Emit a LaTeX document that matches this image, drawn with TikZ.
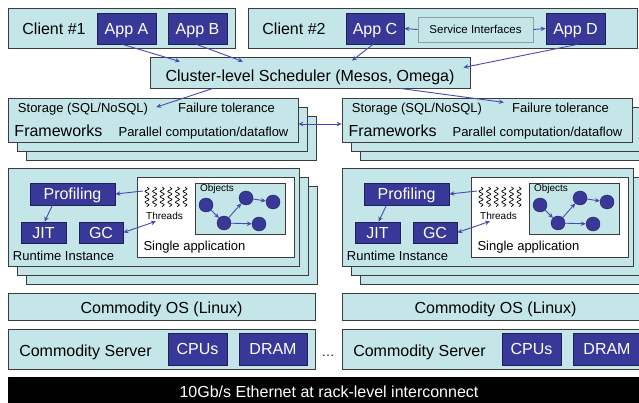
\documentclass[tikz,border=0pt]{standalone}
\usepackage{fontspec}
\setmainfont{Liberation Sans}
\usetikzlibrary{arrows.meta,decorations.pathmorphing}

\definecolor{panelcyan}{RGB}{197,230,232}
\definecolor{appblue}{RGB}{56,56,152}
\definecolor{appedge}{RGB}{32,32,90}
\definecolor{edgegray}{RGB}{60,60,60}
\definecolor{arrowblue}{RGB}{72,72,182}
\definecolor{svcedge}{RGB}{140,160,160}

\newcommand{\sizeL}{\fontsize{16}{19}\selectfont}
\newcommand{\sizeM}{\fontsize{13}{15}\selectfont}
\newcommand{\sizeS}{\fontsize{11.5}{13}\selectfont}
\newcommand{\sizeXS}{\fontsize{10}{12}\selectfont}

\tikzset{
  panel/.style={draw=edgegray, fill=panelcyan, line width=0.8pt, inner sep=0pt},
  darkbox/.style={draw=appedge, fill=appblue, text=white, font=\sizeL, line width=0.8pt,
    inner sep=0pt, text height=11.5pt, text depth=0pt},
  svcbox/.style={draw=svcedge, fill=panelcyan, font=\sizeS, line width=0.8pt,
    inner sep=0pt, text height=8.2pt, text depth=0pt},
  whitebox/.style={draw=edgegray, fill=white, line width=0.8pt, inner sep=0pt},
  netbar/.style={draw=black, fill=black, inner sep=0pt},
  txt/.style={inner sep=0pt, anchor=base},
  obj/.style={circle, draw=appedge, fill=appblue, minimum size=14pt, inner sep=0pt},
  wave/.style={decorate, decoration={snake, amplitude=2pt, segment length=5.4pt}, line width=0.7pt},
  link/.style={draw=arrowblue, line width=0.9pt, >={Stealth[length=5pt,width=4.5pt]}, ->},
  twoway/.style={link, <->},
}

% box from its corners: style, name, x1, y1, x2, y2, text
\newcommand{\boxat}[7]{
\node[#1, minimum width={(#5)-(#3)}, minimum height={(#6)-(#4)}]
(#2) at ({((#3)+(#5))/2}, {((#4)+(#6))/2}) {#7};
}
% three layers, back to front
\newcommand{\stackat}[5]{
\boxat{panel}{#1c}{#2+18}{#3+18}{#4+18}{#5+18}{}
\boxat{panel}{#1b}{#2+9}{#3+9}{#4+9}{#5+9}{}
\boxat{panel}{#1}{#2}{#3}{#4}{#5}{}
}
% one machine, frameworks down to server
\newcommand{\rackcol}[1]{
\stackat{fw#1}{8}{98}{298}{142}
\node[txt, font=\sizeM] (stor#1) at (83,113) {Storage (SQL/NoSQL)};
\node[txt, font=\sizeM] (fail#1) at (226.5,113) {Failure tolerance};
\node[txt, font=\sizeL] (fwtxt#1) at (58.5,137) {Frameworks};
\node[txt, font=\sizeM] (par#1) at (203.5,137) {Parallel computation/dataflow};

\stackat{rt#1}{8}{168}{299}{266}
\boxat{darkbox}{prof#1}{30}{183}{115}{205}{Profiling}
\boxat{darkbox}{jit#1}{21}{222}{66}{243}{JIT}
\boxat{darkbox}{gc#1}{79}{222}{123}{243}{GC}
\node[txt, font=\sizeM] (rtname#1) at (63.5,260) {Runtime Instance};
\boxat{whitebox}{sapp#1}{137}{177}{294}{257}{}
\node[txt, font=\sizeM] (sapptxt#1) at (194.5,251) {Single application};
\boxat{panel}{objs#1}{195}{183}{285}{234}{}
\node[txt, font=\sizeXS] (objtxt#1) at (217,192) {Objects};
\foreach \k in {0,...,5}
  \draw[wave] (147+\k*7.6,187) -- (147+\k*7.6,207);
\node[txt, font=\sizeXS] (thr#1) at (164.5,219) {Threads};
\coordinate (wave#1) at (143,191);
\node[obj] (oa#1) at (206,205) {};
\node[obj] (ob#1) at (224,223) {};
\node[obj] (oc#1) at (246,198) {};
\node[obj] (od#1) at (273,202) {};
\node[obj] (oe#1) at (259,224) {};
\draw[link] (oa#1) -- (ob#1);
\draw[link] (ob#1) -- (oc#1);
\draw[link] (oc#1) -- (od#1);
\draw[link] (ob#1) -- (oe#1);
\draw[link] (wave#1) -- (prof#1.east);
\draw[link] ([xshift=-20pt]prof#1.south) -- ([xshift=1pt]jit#1.north);
\draw[twoway] (gc#1.east) -- ([xshift=10pt,yshift=-2pt]thr#1.south west);

\boxat{panel}{os#1}{8}{293}{315}{320}{}
\node[txt, font=\sizeL] (ostxt#1) at (161.5,313) {Commodity OS (Linux)};
\boxat{panel}{srv#1}{8}{329}{315}{369}{}
\node[txt, font=\sizeL] (srvtxt#1) at (85.5,356) {Commodity Server};
\boxat{darkbox}{cpu#1}{168}{333}{227}{365}{CPUs}
\boxat{darkbox}{dram#1}{239}{333}{307}{365}{DRAM}
}

\begin{document}
\begin{tikzpicture}[x=1pt, y=-1pt]
\path[use as bounding box, clip] (0,0) rectangle (639,403);

% clients
\boxat{panel}{cl1}{8}{8}{235}{48}{}
\node[txt, font=\sizeL] (cl1txt) at (54,35) {Client \#1};
\boxat{darkbox}{appA}{97}{13}{156}{44}{App A}
\boxat{darkbox}{appB}{168}{13}{227}{44}{App B}
\boxat{panel}{cl2}{248}{8}{637}{48}{}
\node[txt, font=\sizeL] (cl2txt) at (294,35) {Client \#2};
\boxat{darkbox}{appC}{346}{13}{404}{44}{App C}
\boxat{svcbox}{svc}{418}{17}{533}{42}{Service Interfaces}
\boxat{darkbox}{appD}{546}{13}{605}{44}{App D}
\draw[link] (svc.west) -- (appC.east);
\draw[link] (svc.east) -- (appD.west);

% scheduler
\boxat{panel}{sched}{150}{57}{470}{88}{}
\node[txt, font=\sizeL] (schedtxt) at (310,82) {Cluster-level Scheduler (Mesos, Omega)};
\draw[link] ([xshift=-4pt]appA.south) -- ([xshift=-130pt,yshift=-5pt]sched.north);
\draw[link] ([xshift=-1pt]appB.south) -- ([xshift=-67pt,yshift=-5pt]sched.north);
\draw[link] ([xshift=-2pt]appC.south) -- ([xshift=42pt,yshift=-4pt]sched.north);
\draw[link] ([xshift=2pt]appD.south) -- ([xshift=-7pt,yshift=5pt]sched.east);

% machines
\rackcol{L}
\begin{scope}[xshift=334pt]
\rackcol{R}
\end{scope}
\draw[link] ([xshift=-97pt]sched.south) -- ([xshift=8pt,yshift=2.5pt]storL.east);
\draw[link] ([xshift=90pt]sched.south) -- ([xshift=-8pt,yshift=1pt]failR.north west);
\draw[twoway] ([yshift=-4pt]fwL.east) -- ([yshift=-4pt]fwR.west);
\node[txt, font=\sizeM] (dots) at (328,356) {\ldots};

% network
\boxat{netbar}{net}{8}{377}{645}{410}{}
\node[txt, font=\sizeL, text=white] (nettxt) at (329,397) {10Gb/s Ethernet at rack-level interconnect};
\end{tikzpicture}
\end{document}
